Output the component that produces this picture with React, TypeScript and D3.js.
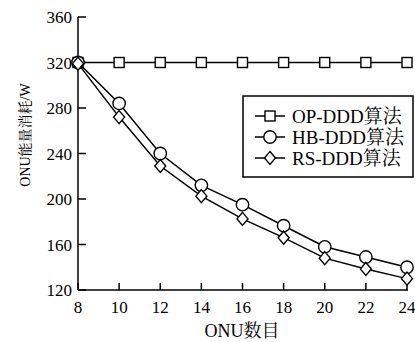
import React from "react";
import * as d3 from "d3";

const xValues = [8, 10, 12, 14, 16, 18, 20, 22, 24];
const opValues = [320, 320, 320, 320, 320, 320, 320, 320, 320];
const hbValues = [320, 284, 240, 212, 195, 176.5, 158, 149, 140];
const rsValues = [319, 272, 229, 202.5, 182.5, 166, 148, 138.5, 130];
const xTicks = [8, 10, 12, 14, 16, 18, 20, 22, 24];
const yTicks = [120, 160, 200, 240, 280, 320, 360];
const seriesNames = ["OP-DDD算法", "HB-DDD算法", "RS-DDD算法"];
const xLabel = "ONU数目";
const yLabel = "ONU能量消耗/W";

const W = 415;
const H = 342;
const FONT = "Liberation Serif, Noto Serif CJK SC, Noto Sans CJK SC, serif";

function Marker({ type, x, y }: { type: string; x: number; y: number }) {
  const common = { fill: "white", stroke: "black", strokeWidth: 1.4 };
  if (type === "square") return <rect x={x - 5} y={y - 5} width={10} height={10} {...common} />;
  if (type === "circle") return <circle cx={x} cy={y} r={6.2} {...common} />;
  return <path d={`M${x},${y - 6.5}L${x + 5.5},${y}L${x},${y + 6.5}L${x - 5.5},${y}Z`} {...common} />;
}

export default function App() {
  const x = d3.scaleLinear().domain([8, 24]).range([78, 407]);
  const y = d3.scaleLinear().domain([120, 360]).range([290, 17]);
  const line = d3
    .line<number>()
    .x((_, i) => x(xValues[i]))
    .y((d) => y(d));
  const series = [
    { name: seriesNames[0], values: opValues, marker: "square" },
    { name: seriesNames[1], values: hbValues, marker: "circle" },
    { name: seriesNames[2], values: rsValues, marker: "diamond" },
  ];
  const legendX = 243;
  const legendY = 96;
  const ts = { fontFamily: FONT };
  return (
    <svg
      width={W}
      height={H}
      style={{ position: "absolute", left: 0, top: 0, background: "white", fontFamily: FONT }}
    >
      {/* axes */}
      <line x1={x(8)} y1={y(120)} x2={x(24) + 1} y2={y(120)} stroke="black" strokeWidth={1.5} />
      <line x1={x(8)} y1={y(120)} x2={x(8)} y2={y(360)} stroke="black" strokeWidth={1.5} />
      {yTicks.map((t) => (
        <g key={"y" + t}>
          <line x1={x(8)} x2={x(8) + 8} y1={y(t)} y2={y(t)} stroke="black" strokeWidth={1.5} />
          <text x={72} y={y(t)} dy="0.36em" textAnchor="end" fontSize={17} style={ts}>
            {t}
          </text>
        </g>
      ))}
      {xTicks.map((t) => (
        <g key={"x" + t}>
          <line x1={x(t)} x2={x(t)} y1={y(120)} y2={y(120) - 7} stroke="black" strokeWidth={1.5} />
          <text x={x(t)} y={313} textAnchor="middle" fontSize={17} style={ts}>
            {t}
          </text>
        </g>
      ))}
      <text x={242} y={337} textAnchor="middle" fontSize={18} style={ts}>
        {xLabel}
      </text>
      <text
        transform={`translate(30,135) rotate(-90)`}
        textAnchor="middle"
        fontSize={14}
        style={ts}
      >
        {yLabel}
      </text>
      {/* series */}
      {series.map((s) => (
        <g key={s.name}>
          <path d={line(s.values) || ""} fill="none" stroke="black" strokeWidth={1.5} />
          {s.values.map((v, i) => (
            <Marker key={i} type={s.marker} x={x(xValues[i])} y={y(v)} />
          ))}
        </g>
      ))}
      {/* legend */}
      <rect x={legendX} y={legendY} width={170} height={81} fill="white" stroke="black" strokeWidth={1.5} />
      {series.map((s, i) => {
        const cy = legendY + 20 + i * 21;
        return (
          <g key={"l" + s.name}>
            <line x1={255} x2={285} y1={cy} y2={cy} stroke="black" strokeWidth={1.5} />
            <Marker type={s.marker} x={270} y={cy} />
            <text x={292} y={cy} dy="0.35em" fontSize={19} style={ts}>
              {s.name}
            </text>
          </g>
        );
      })}
    </svg>
  );
}
